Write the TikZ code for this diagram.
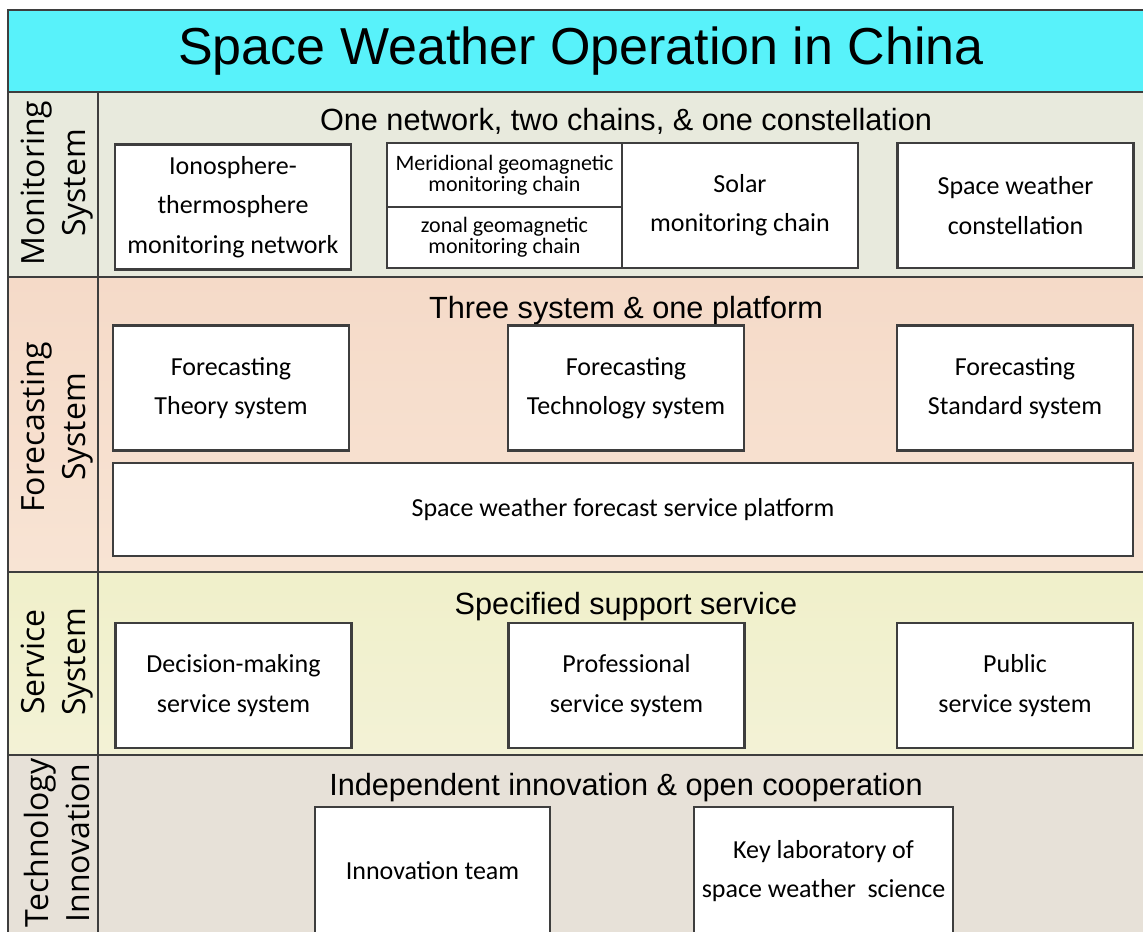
\documentclass[tikz,border=0pt]{standalone}
\usepackage{fontspec}
\setmainfont{Carlito}
\newfontfamily\headfont{Liberation Sans}
\newfontfamily\sidefont{Open Sans}
\usetikzlibrary{positioning}

\definecolor{titlecyan}{RGB}{88,242,250}
\definecolor{framegray}{RGB}{62,62,62}
\definecolor{monbg}{RGB}{232,234,221}
\definecolor{forbgtop}{RGB}{245,218,200}
\definecolor{forbgbot}{RGB}{248,228,212}
\definecolor{serbgtop}{RGB}{240,240,202}
\definecolor{serbgbot}{RGB}{243,242,214}
\definecolor{tecbg}{RGB}{231,225,216}

\begin{document}
\begin{tikzpicture}[x=0.75pt,y=-0.75pt,
  box/.style={draw=framegray,line width=1.8pt,fill=white,inner sep=0pt,align=center,
    minimum width=177pt,minimum height=93.75pt,font=\fontsize{19.5}{29.5}\selectfont},
  smallbox/.style={box,minimum width=176.25pt,minimum height=48pt,font=\fontsize{16.5}{16}\selectfont},
  sidelabel/.style={rotate=90,align=center,font=\sidefont\fontsize{24}{31}\selectfont},
  subtitle/.style={anchor=base,font=\headfont\fontsize{23}{26}\selectfont},
  rowline/.style={draw=framegray,line width=2.2pt}]

\useasboundingbox (0,0) rectangle (1143,932);

% row backgrounds
\fill[titlecyan] (8,10) rectangle (1150,92);
\fill[monbg] (8,92) rectangle (1150,277);
\shade[top color=forbgtop,bottom color=forbgbot] (8,277) rectangle (1150,572);
\shade[top color=serbgtop,bottom color=serbgbot] (8,572) rectangle (1150,755);
\fill[tecbg] (8,755) rectangle (1150,940);

% frame
\draw[rowline] (8,940) -- (8,10) -- (1150,10);
\foreach \y in {92,277,572,755}
  \draw[rowline] (8,\y) -- (1150,\y);
\draw[rowline] (98,92) -- (98,940);

\node[anchor=base,font=\headfont\fontsize{39}{42}\selectfont] (title) at (581,64) {Space Weather Operation in China};

% side labels
\node[sidelabel] (monlab) at (57,183) {Monitoring\\System};
\node[sidelabel] (forlab) at (57,427) {Forecasting\\System};
\node[sidelabel] (serlab) at (57,662) {Service\\System};
\node[sidelabel] (teclab) at (57,843) {Technology\\Innovation};

% monitoring system
\node[subtitle] (monsub) at (626,130) {One network, two chains, \& one constellation};
\node[box] (iono) at (233,207) {Ionosphere-\\thermosphere\\monitoring network};
\node[smallbox] (meri) at (504.5,175) {Meridional geomagnetic\\monitoring chain};
\node[smallbox,minimum height=45.75pt] (zonal) [below=-1.8pt of meri] {zonal geomagnetic\\monitoring chain};
\node[box] (solar) at (740,205.5) {Solar\\monitoring chain};
\node[box] (const) at (1015.5,205.5) {Space weather\\constellation};

% forecasting system
\node[subtitle] (forsub) at (626,318) {Three system \& one platform};
\node[box] (theory) at (231,388) {Forecasting\\Theory system};
\node[box] (techsys) at (626,388) {Forecasting\\Technology system};
\node[box] (standard) at (1015,388) {Forecasting\\Standard system};
\node[box,minimum width=765pt,minimum height=69.75pt] (platform) at (623,509.5) {Space weather forecast service platform};

% service system
\node[subtitle] (sersub) at (626,614) {Specified support service};
\node[box] (decision) at (233.5,685.5) {Decision-making\\service system};
\node[box] (profess) at (626.5,685.5) {Professional\\service system};
\node[box] (public) at (1015,685.5) {Public\\service system};

% technology innovation
\node[subtitle] (tecsub) at (626,795) {Independent innovation \& open cooperation};
\node[box,minimum width=176pt,minimum height=96pt] (team) at (432.5,871) {Innovation team};
\node[box,minimum width=194pt,minimum height=96pt] (keylab) at (823.5,871) {Key laboratory of\\space weather~ science};

\end{tikzpicture}
\end{document}
